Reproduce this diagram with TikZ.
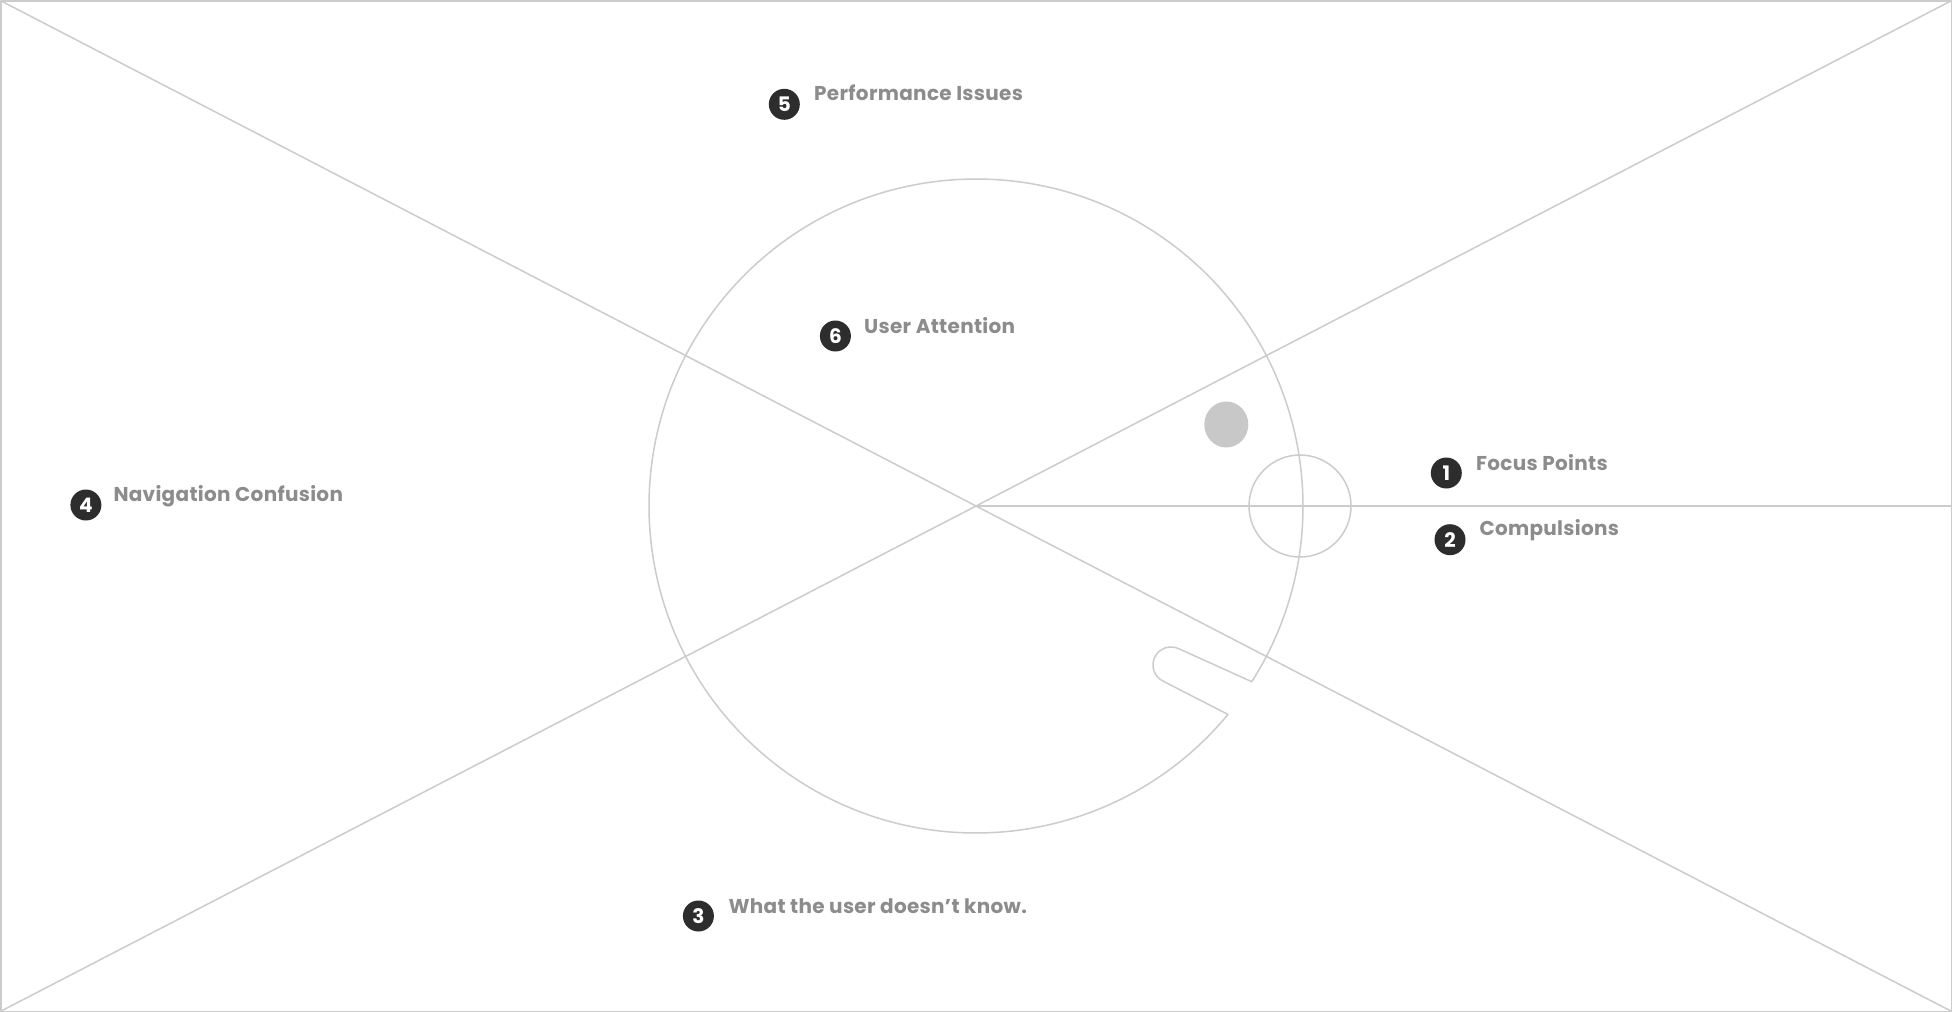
\documentclass[tikz,border=0pt]{standalone}
\usepackage{fontspec}
\setmainfont{Poppins}
\definecolor{linegray}{HTML}{CCCCCC}
\definecolor{dotgray}{HTML}{C8C8C8}
\definecolor{labelgray}{HTML}{8C8C8C}
\definecolor{badgedark}{HTML}{2D2D2D}
\tikzset{
  wire/.style={draw=linegray, line width=1.5pt, line join=round},
  badge/.style={circle, fill=badgedark, text=white, minimum size=31pt, inner sep=0pt, font=\bfseries\fontsize{20}{20}\selectfont},
  lbl/.style={text=labelgray, inner sep=0pt, anchor=base west, font=\bfseries\fontsize{20}{24}\selectfont\addfontfeatures{LetterSpace=1.5}},
}
\begin{document}
\begin{tikzpicture}[x=1pt,y=-1pt]
\useasboundingbox (0,0) rectangle (1952,1012);
\fill[white] (0,0) rectangle (1952,1012);
% frame and crossing lines
\coordinate (tl) at (0.75,0.75);
\coordinate (tr) at (1951.25,0.75);
\coordinate (bl) at (0.75,1011.25);
\coordinate (br) at (1951.25,1011.25);
\coordinate (c) at (976,506);
\coordinate (re) at (1951.25,506);
\draw[wire] (tl) rectangle (br);
\draw[wire] (tl) -- (br);
\draw[wire] (bl) -- (tr);
\draw[wire] (c) -- (re);
% big circle with slot
\draw[wire] (c) ++(39.6:327) arc[start angle=39.6, end angle=392.5, radius=327]
  -- (1178.7,648.7) arc[start angle=-64.6, end angle=-244.6, radius=18] -- cycle;
% small circle
\draw[wire] (1300,506) circle[radius=51];
% grey dot
\fill[dotgray] (1226.3,424.5) ellipse[x radius=22, y radius=23];
% badges and labels
\node[badge] (b5) at (784.3,104.3) {5};
\node[lbl] (t5) at (814,100.7) {Performance Issues};
\node[badge] (b6) at (835.4,336) {6};
\node[lbl] (t6) at (864,333) {User Attention};
\node[badge] (b1) at (1446.3,473) {1};
\node[lbl] (t1) at (1476,470) {Focus Points};
\node[badge] (b2) at (1450,539.7) {2};
\node[lbl] (t2) at (1479.3,535.3) {Compulsions};
\node[badge] (b4) at (85.9,505) {4};
\node[lbl] (t4) at (113.3,501.3) {Navigation Confusion};
\node[badge] (b3) at (698.4,916) {3};
\node[lbl] (t3) at (728.3,913.3) {What the user doesn’t know.};
\end{tikzpicture}
\end{document}
